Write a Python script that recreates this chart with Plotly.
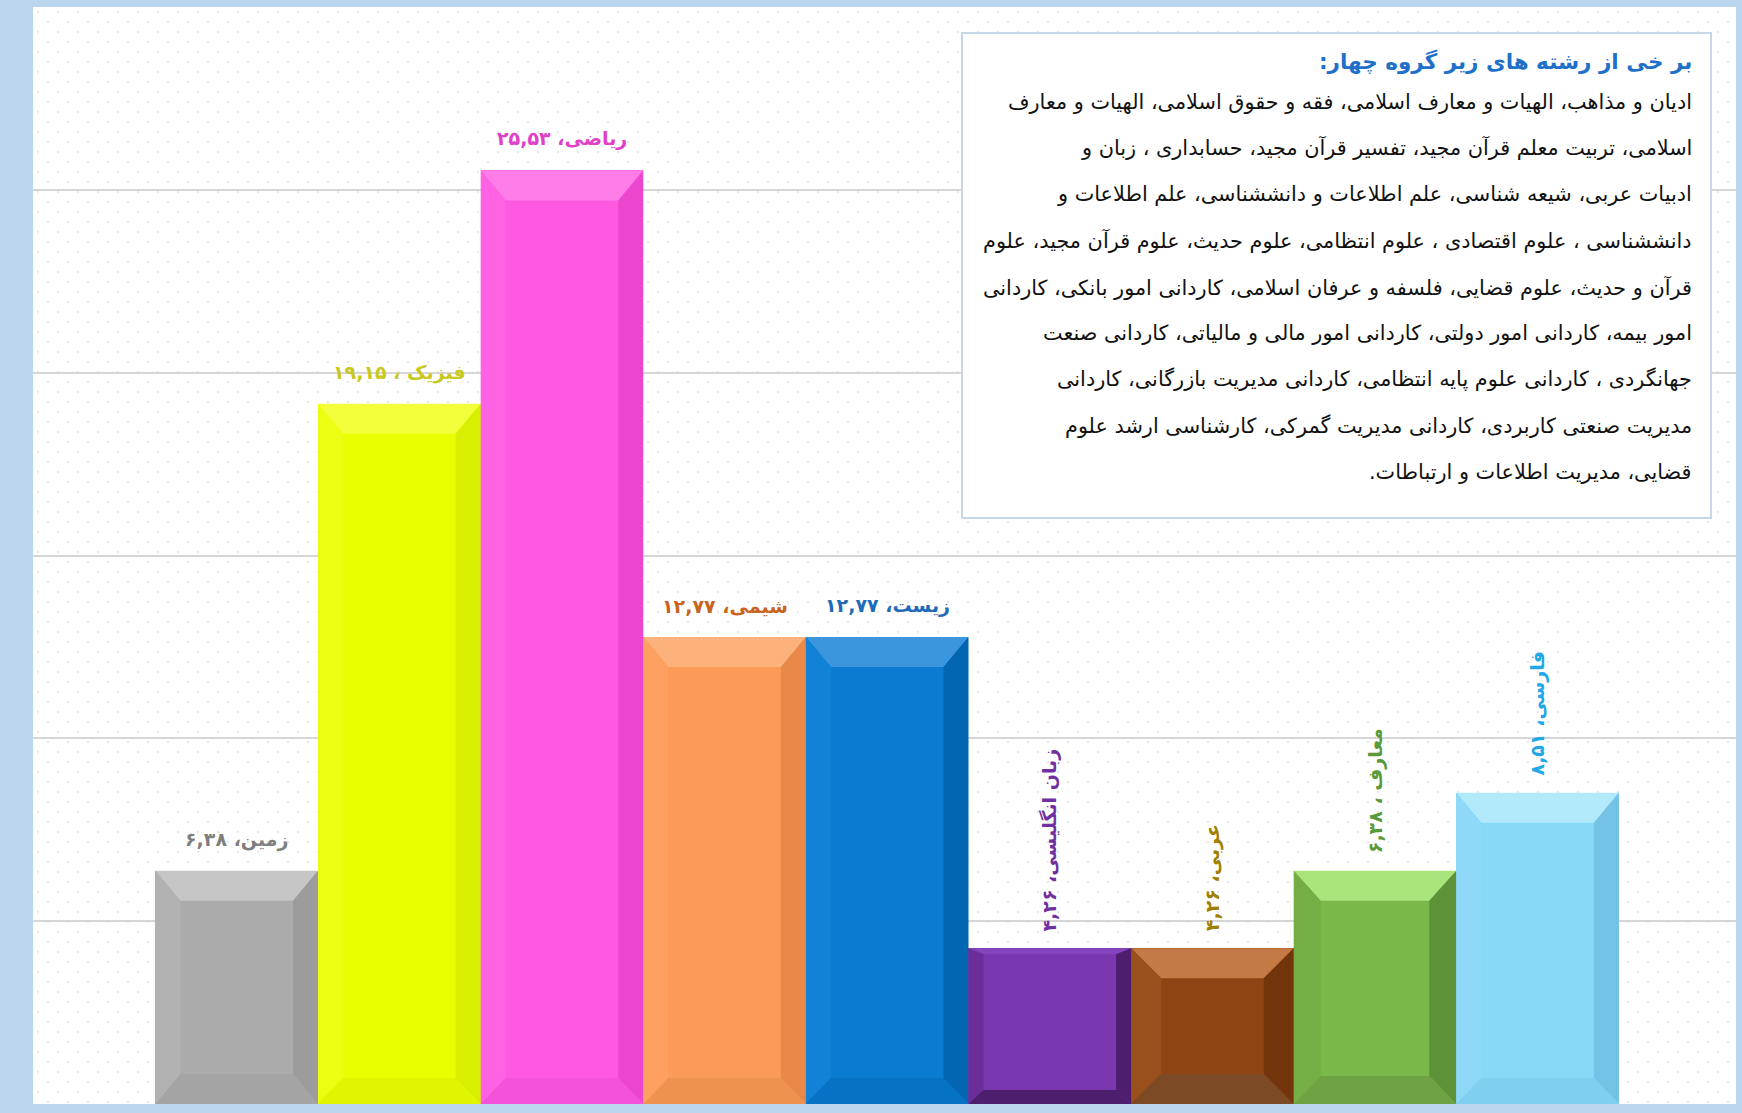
import base64
import plotly.graph_objects as go

# ---------------- data ----------------
categories = ["زمین", "فیزیک ", "ریاضی", "شیمی", "زیست",
              "زبان انگلیسی", "عربی", "معارف ", "فارسی"]
values = [6.38, 19.15, 25.53, 12.77, 12.77, 4.26, 4.26, 6.38, 8.51]
value_labels = ["۶,۳۸", "۱۹,۱۵", "۲۵,۵۳", "۱۲,۷۷", "۱۲,۷۷", "۴,۲۶", "۴,۲۶", "۶,۳۸", "۸,۵۱"]
label_vertical = [False, False, False, False, False, True, True, True, True]

box_title = "بر خی از رشته های زیر گروه چهار:"
box_lines = [
    "ادیان و مذاهب، الهیات و معارف اسلامی، فقه و حقوق اسلامی، الهیات و معارف",
    "اسلامی، تربیت معلم قرآن مجید، تفسیر قرآن مجید، حسابداری ، زبان و",
    "ادبیات عربی، شیعه شناسی، علم اطلاعات و دانششناسی، علم اطلاعات و",
    "دانششناسی ، علوم اقتصادی ، علوم انتظامی، علوم حدیث، علوم قرآن مجید، علوم",
    "قرآن و حدیث، علوم قضایی، فلسفه و عرفان اسلامی، کاردانی امور بانکی، کاردانی",
    "امور بیمه، کاردانی امور دولتی، کاردانی امور مالی و مالیاتی، کاردانی صنعت",
    "جهانگردی ، کاردانی علوم پایه انتظامی، کاردانی مدیریت بازرگانی، کاردانی",
    "مدیریت صنعتی کاربردی، کاردانی مدیریت گمرکی، کارشناسی ارشد علوم",
    "قضایی، مدیریت اطلاعات و ارتباطات.",
]

# ---------------- style ----------------
face = ["#ABABAB", "#E8FF00", "#FF59E1", "#FC9A57", "#0A7BD0", "#7A37B0", "#8E4513", "#7BB84A", "#88D8F8"]
top_c = ["#C6C6C6", "#F2FF3A", "#FF7DE9", "#FDB27C", "#3C96DE", "#8644BC", "#C47A45", "#AAE47C", "#B2EAFC"]
left_c = ["#B2B2B2", "#ECFF12", "#FF62E3", "#FDA060", "#1282D6", "#6A2D9A", "#9A501C", "#74AE45", "#8ED9F8"]
right_c = ["#9C9C9C", "#D8EE00", "#EC46CF", "#E8894A", "#0266B2", "#4E1E6E", "#72350C", "#5E9238", "#74C2E6"]
bottom_c = ["#A4A4A4", "#E0F600", "#F452DA", "#EE924F", "#0672C4", "#4E1E6E", "#7C4A25", "#6EA242", "#80CFF0"]
label_colors = ["#7F7F7F", "#C8C81E", "#E040C8", "#C8641E", "#1F6BB8", "#7030A0", "#A08000", "#5A9A3A", "#22A8E6"]
bevel_top_px = [30, 30, 30, 30, 30, 6, 30, 30, 30]
bevel_side_px = [25, 25, 25, 25, 25, 15, 30, 27, 25]
bevel_bot_px = [30, 26, 26, 26, 26, 14, 30, 28, 26]

W, H = 1742, 1113
ML, MR, MT, MB = 33, 6, 7, 9
PW, PH = W - ML - MR, H - MT - MB
XR = [-1.253, 9.22]
YR = [0, 30]
px_x = PW / (XR[1] - XR[0])
px_y = PH / (YR[1] - YR[0])
FONT = "DejaVu Sans"
RLM = "\u200f"


def xp(px):
    return (px - ML) / PW


def yp(py):
    return (H - MB - py) / PH


fig = go.Figure()
xs = list(range(len(categories)))
fig.add_trace(go.Bar(x=xs, y=values, marker=dict(color=face, line=dict(width=0)),
                     width=1.0, hoverinfo="skip"))

shapes = []
for i, v in enumerate(values):
    x0, x1 = i - 0.5, i + 0.5
    dx = bevel_side_px[i] / px_x
    dt = bevel_top_px[i] / px_y
    db = bevel_bot_px[i] / px_y
    polys = [
        (top_c[i], [(x0, v), (x1, v), (x1 - dx, v - dt), (x0 + dx, v - dt)]),
        (left_c[i], [(x0, v), (x0 + dx, v - dt), (x0 + dx, db), (x0, 0)]),
        (right_c[i], [(x1, v), (x1 - dx, v - dt), (x1 - dx, db), (x1, 0)]),
        (bottom_c[i], [(x0, 0), (x0 + dx, db), (x1 - dx, db), (x1, 0)]),
    ]
    for col, pts in polys:
        path = "M " + " L ".join(f"{a},{b}" for a, b in pts) + " Z"
        shapes.append(dict(type="path", xref="x", yref="y", path=path,
                           fillcolor=col, line=dict(width=0), layer="above"))

# text box
shapes.append(dict(type="rect", xref="paper", yref="paper",
                   x0=xp(962), x1=xp(1711), y0=yp(518), y1=yp(33),
                   fillcolor="white", line=dict(color="#C6D7EA", width=2), layer="above"))

annotations = []
for i, (c, v, lab) in enumerate(zip(categories, values, value_labels)):
    text = f"{c.strip()}، {lab}" if c == c.strip() else f"{c.strip()} ، {lab}"
    text = "<b>" + text + "</b>"
    if label_vertical[i]:
        annotations.append(dict(x=i, y=v, xref="x", yref="y", text=text, showarrow=False,
                                textangle=-90, yanchor="bottom", xanchor="center", yshift=15,
                                font=dict(family=FONT, size=19, color=label_colors[i])))
    else:
        annotations.append(dict(x=i, y=v, xref="x", yref="y", text=text, showarrow=False,
                                yanchor="bottom", xanchor="center", yshift=18,
                                font=dict(family=FONT, size=19, color=label_colors[i])))

annotations.append(dict(x=xp(1694), y=yp(61), xref="paper", yref="paper", text="<b>" + box_title + RLM + "</b>",
                        showarrow=False, xanchor="right", yanchor="middle",
                        font=dict(family=FONT, size=21.5, color="#1E70C8")))
for k, line in enumerate(box_lines):
    py = 102 + k * 46.25
    annotations.append(dict(x=xp(1694), y=yp(py), xref="paper", yref="paper", text=line + RLM,
                            showarrow=False, xanchor="right", yanchor="middle",
                            font=dict(family=FONT, size=20.8, color="#111111")))

# faint dotted background pattern
svg = (f'<svg xmlns="http://www.w3.org/2000/svg" width="{PW}" height="{PH}">'
       '<defs><pattern id="p" width="20" height="20" patternUnits="userSpaceOnUse">'
       '<circle cx="5" cy="5" r="1.1" fill="#E2E2E2"/><circle cx="15" cy="15" r="1.1" fill="#E2E2E2"/>'
       '</pattern></defs>'
       f'<rect width="{PW}" height="{PH}" fill="white"/>'
       f'<rect width="{PW}" height="{PH}" fill="url(#p)"/></svg>')
src = "data:image/svg+xml;base64," + base64.b64encode(svg.encode()).decode()

fig.update_layout(
    width=W, height=H,
    margin=dict(l=ML, r=MR, t=MT, b=MB, pad=0),
    paper_bgcolor="#BDD6EF", plot_bgcolor="white",
    showlegend=False, bargap=0,
    xaxis=dict(range=XR, showgrid=False, showticklabels=False, zeroline=False,
               ticks="", showline=False, fixedrange=True),
    yaxis=dict(range=YR, dtick=5, showgrid=True, gridcolor="#D6D6D6", gridwidth=2,
               showticklabels=False, zeroline=False, ticks="", showline=False, fixedrange=True),
    shapes=shapes, annotations=annotations,
    images=[dict(source=src, xref="paper", yref="paper", x=0, y=1, sizex=1, sizey=1,
                 sizing="stretch", xanchor="left", yanchor="top", layer="below")],
)

fig.write_html("out.html", config={"displayModeBar": False})
